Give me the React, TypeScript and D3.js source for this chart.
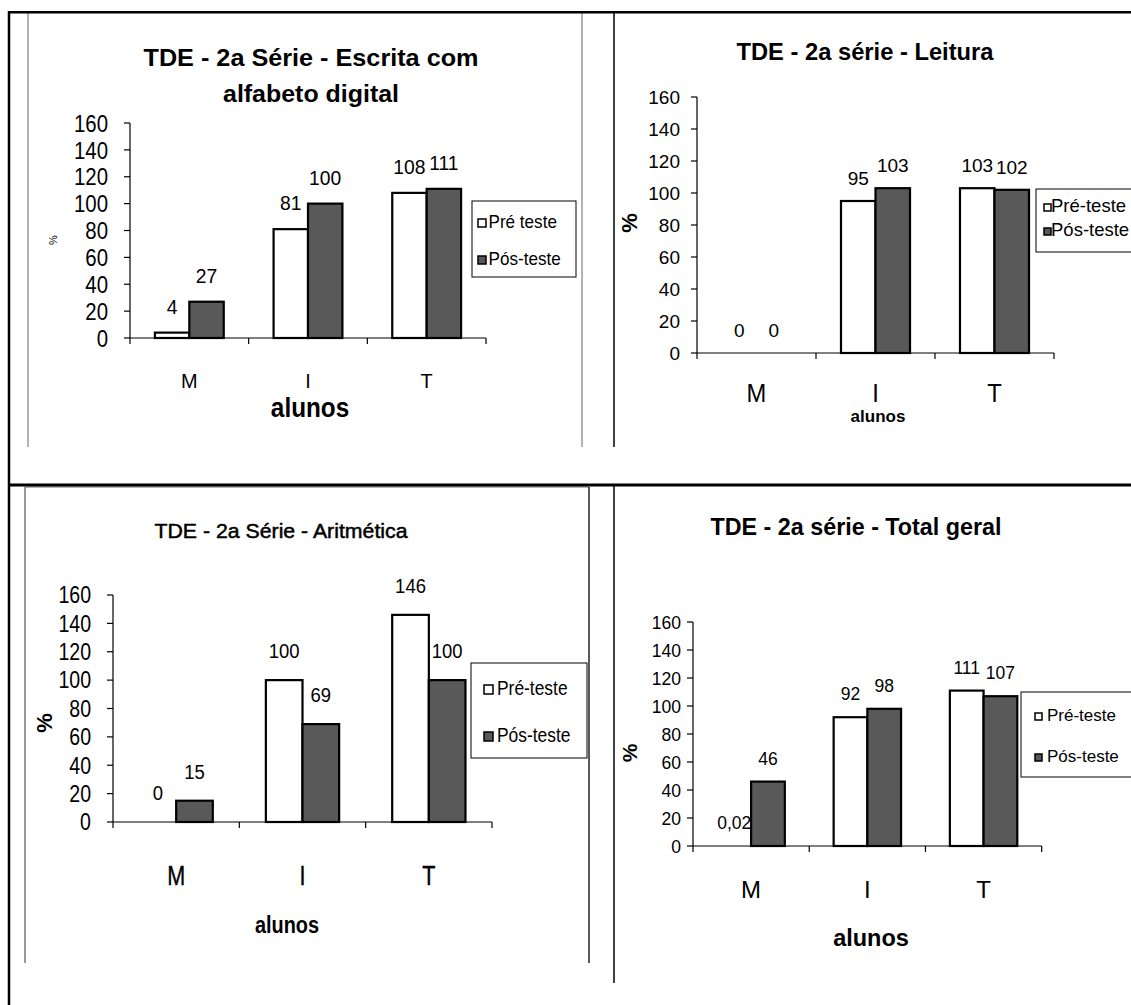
import React from "react";
import * as d3 from "d3";

const categories = ["M", "I", "T"];
const series = ["pre", "pos"];
const yTicks = [0, 20, 40, 60, 80, 100, 120, 140, 160];

const escritaPre = [4, 81, 108];
const escritaPos = [27, 100, 111];
const leituraPre = [0, 95, 103];
const leituraPos = [0, 103, 102];
const aritmeticaPre = [0, 100, 146];
const aritmeticaPos = [15, 69, 100];
const totalPre = [0.02, 92, 111];
const totalPos = [46, 98, 107];

const legendEscrita = ["Pré teste", "Pós-teste"];
const legendOthers = ["Pré-teste", "Pós-teste"];

const titleEscrita = ["TDE - 2a Série - Escrita com", "alfabeto digital"];
const titleLeitura = ["TDE - 2a série - Leitura"];
const titleAritmetica = ["TDE - 2a Série - Aritmética"];
const titleTotal = ["TDE - 2a série - Total geral"];

const xTitle = "alunos";
const yTitle = "%";

const FONT = "'Liberation Sans', Arial, Helvetica, sans-serif";
const POS_FILL = "#595959";

const fmt = (v: number) => String(v).replace(".", ",");

type TP = {
  x: number;
  y: number;
  size: number;
  sx?: number;
  anchor?: string;
  weight?: string;
  rotate?: number;
  len?: number;
  thick?: number;
  children: React.ReactNode;
};

function T({ x, y, size, sx = 1, anchor = "middle", weight = "normal", rotate, len, thick, children }: TP) {
  const tr = `translate(${x},${y})${rotate ? ` rotate(${rotate})` : ""}${sx !== 1 ? ` scale(${sx},1)` : ""}`;
  return (
    <text
      transform={tr}
      fontSize={size}
      fontWeight={weight}
      textAnchor={anchor as any}
      fontFamily={FONT}
      fill="#000"
      {...(thick ? { stroke: "#000", strokeWidth: thick } : {})}
      {...(len ? { textLength: len, lengthAdjust: "spacingAndGlyphs" } : {})}
    >
      {children}
    </text>
  );
}

function Panel({ cfg }: { cfg: any }) {
  const x = d3.scaleBand<string>().domain(categories).range([cfg.x0, cfg.x1]).padding(0);
  const bw = x.bandwidth();
  const inner = d3
    .scaleBand<string>()
    .domain(series)
    .range([bw * 0.21, bw * 0.79])
    .padding(0);
  const y = d3.scaleLinear().domain([0, 160]).range([cfg.yZero, cfg.yTop]);
  const data = [cfg.pre, cfg.pos];
  const edges = [...categories.map((c) => x(c) as number), cfg.x1];

  return (
    <g>
      {cfg.title.map((t: string, i: number) => (
        <T
          key={i}
          x={cfg.titleX}
          y={cfg.titleY[i]}
          size={cfg.titleSize}
          weight={cfg.titleWeight}
          len={cfg.titleLen[i]}
          thick={cfg.titleThick}
        >
          {t}
        </T>
      ))}

      {series.map((s, si) =>
        categories.map((c, ci) => {
          const v = data[si][ci];
          const bx = (x(c) as number) + (inner(s) as number);
          const by = y(v);
          const h = y(0) - by;
          return (
            <g key={s + c}>
              {h >= 0.5 && (
                <rect
                  x={bx}
                  y={by}
                  width={inner.bandwidth()}
                  height={h}
                  fill={si === 0 ? "#fff" : POS_FILL}
                  stroke="#000"
                  strokeWidth={2.2}
                />
              )}
              <T
                x={bx + inner.bandwidth() / 2}
                y={by - cfg.valOff}
                size={cfg.valSize}
                sx={cfg.valSx}
              >
                {fmt(v)}
              </T>
            </g>
          );
        })
      )}

      <line x1={cfg.x0} x2={cfg.x0} y1={y(160)} y2={y(0)} stroke="#000" strokeWidth={1.2} />
      {yTicks.map((t) => (
        <g key={t}>
          <line x1={cfg.x0 - 6} x2={cfg.x0} y1={y(t)} y2={y(t)} stroke="#000" strokeWidth={1.2} />
          <T
            x={cfg.tickRight}
            y={y(t) + cfg.tickSize * 0.36}
            size={cfg.tickSize}
            sx={cfg.tickSx}
            anchor="end"
          >
            {t}
          </T>
        </g>
      ))}

      <line x1={cfg.x0} x2={cfg.x1} y1={y(0)} y2={y(0)} stroke="#000" strokeWidth={1.2} />
      {edges.map((e, i) => (
        <line key={i} x1={e} x2={e} y1={y(0)} y2={y(0) + 6} stroke="#000" strokeWidth={1.2} />
      ))}
      {categories.map((c) => (
        <T
          key={c}
          x={(x(c) as number) + bw / 2}
          y={cfg.catY}
          size={cfg.catSize}
          sx={cfg.catSx}
          thick={cfg.catThick}
        >
          {c}
        </T>
      ))}

      <T x={cfg.alunosX} y={cfg.alunosY} size={cfg.alunosSize} sx={cfg.alunosSx} weight="bold">
        {xTitle}
      </T>
      <T x={cfg.pctX} y={cfg.pctY} size={cfg.pctSize} weight={cfg.pctWeight} rotate={-90}>
        {yTitle}
      </T>

      <rect
        x={cfg.lg.x}
        y={cfg.lg.y}
        width={cfg.lg.w}
        height={cfg.lg.h}
        fill="#fff"
        stroke="#000"
        strokeWidth={1}
      />
      {cfg.legend.map((l: string, i: number) => (
        <g key={l}>
          <rect
            x={cfg.lg.mx}
            y={cfg.lg.base[i] - cfg.lg.ms - 1}
            width={cfg.lg.ms}
            height={cfg.lg.ms}
            fill={i === 0 ? "#fff" : POS_FILL}
            stroke="#000"
            strokeWidth={1.5}
          />
          <T x={cfg.lg.tx} y={cfg.lg.base[i]} size={cfg.lg.size} sx={cfg.lg.sx} anchor="start">
            {l}
          </T>
        </g>
      ))}
    </g>
  );
}

const panels = [
  {
    title: titleEscrita,
    titleX: 311,
    titleY: [66, 102],
    titleSize: 24,
    titleWeight: "bold",
    titleLen: [335, 176],
    x0: 130,
    x1: 486,
    yTop: 123,
    yZero: 338,
    tickSize: 24,
    tickSx: 0.85,
    tickRight: 108,
    catY: 388,
    catSize: 21,
    catSx: 0.95,
    alunosX: 310,
    alunosY: 417,
    alunosSize: 27,
    alunosSx: 0.9,
    pctX: 57,
    pctY: 240,
    pctSize: 11,
    pctWeight: "normal",
    valSize: 21,
    valSx: 0.92,
    valOff: 19,
    pre: escritaPre,
    pos: escritaPos,
    legend: legendEscrita,
    lg: { x: 472, y: 201, w: 104, h: 76, base: [228, 265], mx: 478, ms: 8, tx: 488.5, size: 18, sx: 0.95 },
  },
  {
    title: titleLeitura,
    titleX: 865,
    titleY: [60],
    titleSize: 23.7,
    titleWeight: "bold",
    titleLen: [257],
    x0: 697,
    x1: 1054,
    yTop: 97,
    yZero: 353,
    tickSize: 19,
    tickSx: 1,
    tickRight: 680,
    catY: 402,
    catSize: 25,
    catSx: 0.95,
    alunosX: 878,
    alunosY: 422,
    alunosSize: 17,
    alunosSx: 1,
    pctX: 637,
    pctY: 223,
    pctSize: 22,
    pctWeight: "bold",
    valSize: 19,
    valSx: 1,
    valOff: 16,
    pre: leituraPre,
    pos: leituraPos,
    legend: legendOthers,
    lg: { x: 1036, y: 189, w: 120, h: 63, base: [212, 236], mx: 1044, ms: 7, tx: 1051, size: 18.5, sx: 1 },
  },
  {
    title: titleAritmetica,
    titleX: 281,
    titleY: [538],
    titleSize: 21,
    titleWeight: "normal",
    titleThick: 0.5,
    titleLen: [253],
    x0: 113,
    x1: 492,
    yTop: 595,
    yZero: 822,
    tickSize: 23,
    tickSx: 0.85,
    tickRight: 91,
    catY: 885,
    catSize: 27,
    catSx: 0.8,
    catThick: 0.4,
    alunosX: 287,
    alunosY: 933,
    alunosSize: 24,
    alunosSx: 0.83,
    pctX: 52,
    pctY: 723,
    pctSize: 22,
    pctWeight: "bold",
    valSize: 21,
    valSx: 0.88,
    valOff: 22,
    pre: aritmeticaPre,
    pos: aritmeticaPos,
    legend: legendOthers,
    lg: { x: 471, y: 663, w: 116, h: 95, base: [695, 742], mx: 484, ms: 9, tx: 497, size: 20, sx: 0.87 },
  },
  {
    title: titleTotal,
    titleX: 856,
    titleY: [535],
    titleSize: 23.2,
    titleWeight: "bold",
    titleLen: [291],
    x0: 693,
    x1: 1041.7,
    yTop: 622,
    yZero: 846,
    tickSize: 18.5,
    tickSx: 0.95,
    tickRight: 681,
    catY: 898,
    catSize: 24,
    catSx: 1,
    alunosX: 871,
    alunosY: 946,
    alunosSize: 23.5,
    alunosSx: 1,
    pctX: 637,
    pctY: 753,
    pctSize: 21,
    pctWeight: "bold",
    valSize: 17.5,
    valSx: 1,
    valOff: 17,
    pre: totalPre,
    pos: totalPos,
    legend: legendOthers,
    lg: { x: 1021, y: 692, w: 120, h: 85, base: [721, 762], mx: 1035, ms: 7, tx: 1047, size: 17, sx: 1 },
  },
];

export default function App() {
  return (
    <svg
      width={1131}
      height={1005}
      style={{ position: "absolute", left: 0, top: 0, display: "block", background: "#fff" }}
    >
      <rect x={0} y={0} width={1131} height={1005} fill="#fff" />
      <line x1={28} x2={28} y1={13} y2={447} stroke="#9a9a9a" strokeWidth={1.5} />
      <line x1={582} x2={582} y1={13} y2={447} stroke="#9a9a9a" strokeWidth={1.5} />
      <line x1={614} x2={614} y1={12} y2={447} stroke="#000" strokeWidth={1.5} />
      <line x1={25} x2={589} y1={487} y2={487} stroke="#9a9a9a" strokeWidth={1.5} />
      <line x1={25} x2={25} y1={487} y2={963} stroke="#777" strokeWidth={1.5} />
      <line x1={589} x2={589} y1={487} y2={963} stroke="#222" strokeWidth={1.5} />
      <line x1={614} x2={614} y1={485} y2={983} stroke="#000" strokeWidth={1.5} />
      <line x1={8} x2={1131} y1={12.3} y2={12.3} stroke="#000" strokeWidth={2.5} />
      <line x1={9} x2={9} y1={11} y2={1005} stroke="#000" strokeWidth={2.5} />
      <line x1={8} x2={1131} y1={485} y2={485} stroke="#000" strokeWidth={3} />

      {panels.map((p, i) => (
        <Panel key={i} cfg={p} />
      ))}
    </svg>
  );
}
